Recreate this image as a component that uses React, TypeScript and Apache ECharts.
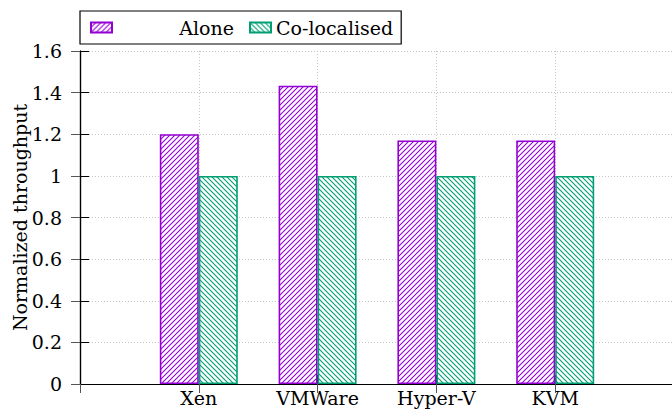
import React, { useEffect, useRef } from "react";
import * as echarts from "echarts";

const categories = ["Xen", "VMWare", "Hyper-V", "KVM"];
const aloneValues = [1.2, 1.433, 1.17, 1.17];
const colocalisedValues = [1.0, 1.0, 1.0, 1.0];
const seriesNames = ["Alone", "Co-localised"];
const yTicks = { min: 0, max: 1.6, interval: 0.2 };

const PURPLE = "#9400D3";
const GREEN = "#009E73";
const FONT = "DejaVu Serif";

function makeHatch(color: string, forward: boolean, size: number) {
  const c = document.createElement("canvas");
  c.width = size;
  c.height = size;
  const ctx = c.getContext("2d")!;
  ctx.fillStyle = "#ffffff";
  ctx.fillRect(0, 0, size, size);
  ctx.strokeStyle = color;
  ctx.lineWidth = 1.1;
  ctx.beginPath();
  if (forward) {
    ctx.moveTo(0, size);
    ctx.lineTo(size, 0);
    ctx.moveTo(-1, 1);
    ctx.lineTo(1, -1);
    ctx.moveTo(size - 1, size + 1);
    ctx.lineTo(size + 1, size - 1);
  } else {
    ctx.moveTo(0, 0);
    ctx.lineTo(size, size);
    ctx.moveTo(size - 1, -1);
    ctx.lineTo(size + 1, 1);
    ctx.moveTo(-1, size - 1);
    ctx.lineTo(1, size + 1);
  }
  ctx.stroke();
  return c;
}

export default function App() {
  const ref = useRef<HTMLDivElement>(null);
  useEffect(() => {
    if (!ref.current) return;
    const chart = echarts.init(ref.current, undefined, { renderer: "svg" });
    const purplePattern = { image: makeHatch(PURPLE, true, 5), repeat: "repeat" };
    const greenPattern = { image: makeHatch(GREEN, false, 5), repeat: "repeat" };
    const aloneData = categories.map((_, i) => [i + 1, aloneValues[i]]);
    const coData = categories.map((_, i) => [i + 1, colocalisedValues[i]]);
    const gridLine = { show: true, lineStyle: { color: "#c4c4c4", type: [1, 2] as any, width: 1 } };
    const axisLine = { show: true, lineStyle: { color: "#000", width: 1.2 } };
    const option: any = {
      animation: false,
      textStyle: { fontFamily: FONT },
      grid: {
        left: 80,
        top: 51,
        width: 594,
        height: 333,
        containLabel: false,
        outerBoundsMode: "none",
      },
      legend: {
        left: 80,
        top: 11,
        orient: "horizontal",
        icon: "rect",
        borderColor: "#000",
        borderWidth: 1.2,
        borderRadius: 0,
        padding: [7, 8, 7, 10],
        itemWidth: 21,
        itemHeight: 10,
        itemGap: 15,
        data: seriesNames,
        formatter: (name: string) => (name === "Alone" ? `{r|${name}}` : `{n|${name}}`),
        textStyle: {
          fontFamily: FONT,
          fontSize: 19,
          color: "#000",
          rich: {
            r: { width: 117, align: "right", fontFamily: FONT, fontSize: 19, lineHeight: 24, color: "#000" },
            n: { fontFamily: FONT, fontSize: 19, lineHeight: 24, color: "#000" },
          },
        },
      },
      xAxis: [
        {
          type: "value",
          min: 0,
          max: 5,
          interval: 1,
          position: "bottom",
          axisLine,
          axisTick: { show: true, inside: true, length: 9, lineStyle: { color: "#000" } },
          axisLabel: {
            fontFamily: FONT,
            fontSize: 19,
            color: "#000",
            margin: 4,
            formatter: (v: number) => categories[v - 1] ?? "",
          },
          splitLine: gridLine,
        },
        {
          type: "value",
          min: 0,
          max: 5,
          interval: 1,
          position: "top",
          axisLine,
          axisTick: { show: true, inside: true, length: 9, lineStyle: { color: "#555" } },
          axisLabel: { show: false },
          splitLine: { show: false },
        },
      ],
      yAxis: [
        {
          type: "value",
          min: yTicks.min,
          max: yTicks.max,
          interval: yTicks.interval,
          position: "left",
          name: "Normalized throughput",
          nameLocation: "middle",
          nameGap: 51,
          nameMoveOverlap: false,
          nameTextStyle: { fontFamily: FONT, fontSize: 19, color: "#000" },
          axisLine,
          axisTick: { show: true, inside: true, length: 9, lineStyle: { color: "#000" } },
          axisLabel: { fontFamily: FONT, fontSize: 19, color: "#000", margin: 18 },
          splitLine: gridLine,
        },
        {
          type: "value",
          min: yTicks.min,
          max: yTicks.max,
          interval: yTicks.interval,
          position: "right",
          axisLine,
          axisTick: { show: true, inside: true, length: 9, lineStyle: { color: "#555" } },
          axisLabel: { show: false },
          splitLine: { show: false },
        },
      ],
      series: [
        {
          name: seriesNames[0],
          type: "bar",
          xAxisIndex: 0,
          yAxisIndex: 0,
          barWidth: 39,
          barGap: "0%",
          data: aloneData,
          itemStyle: { color: purplePattern, borderColor: PURPLE, borderWidth: 1.6 },
        },
        {
          name: seriesNames[1],
          type: "bar",
          xAxisIndex: 0,
          yAxisIndex: 0,
          barWidth: 39,
          barGap: "0%",
          data: coData,
          itemStyle: { color: greenPattern, borderColor: GREEN, borderWidth: 1.6 },
        },
      ],
    };
    chart.setOption(option);
    return () => chart.dispose();
  }, []);
  return (
    <div
      ref={ref}
      style={{ position: "absolute", left: 0, top: 0, width: 672, height: 411, background: "#fff" }}
    />
  );
}
